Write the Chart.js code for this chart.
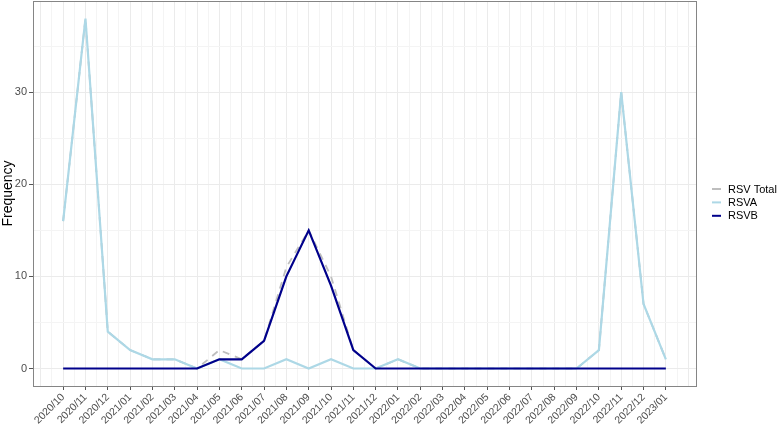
<!DOCTYPE html>
<html>
<head>
<meta charset="utf-8">
<script src="https://cdn.jsdelivr.net/npm/chart.js@4"></script>
<style>
  html, body { margin: 0; padding: 0; background: #fff; }
</style>
</head>
<body>
<canvas id="rsvChart" width="777" height="427"></canvas>
<script>
// months on the x axis
const months = ['2020/10','2020/11','2020/12','2021/01','2021/02','2021/03','2021/04','2021/05',
  '2021/06','2021/07','2021/08','2021/09','2021/10','2021/11','2021/12','2022/01','2022/02',
  '2022/03','2022/04','2022/05','2022/06','2022/07','2022/08','2022/09','2022/10','2022/11',
  '2022/12','2023/01'];

// monthly counts
const rsvA = [16, 38, 4, 2, 1, 1, 0, 1, 0, 0, 1, 0, 1, 0, 0, 1, 0, 0, 0, 0, 0, 0, 0, 0, 2, 30, 7, 1];
const rsvB = [0, 0, 0, 0, 0, 0, 0, 1, 1, 3, 10, 15, 9, 2, 0, 0, 0, 0, 0, 0, 0, 0, 0, 0, 0, 0, 0, 0];
const rsvTotal = [16, 38, 4, 2, 1, 1, 0, 2, 1, 3, 11, 15, 10, 2, 0, 1, 0, 0, 0, 0, 0, 0, 0, 0, 2, 30, 7, 1];

const yTicks = [0, 10, 20, 30];

const toPts = arr => arr.map((v, i) => ({ x: i, y: v }));
const font = '"Liberation Sans", Arial, sans-serif';

// frame round the panel, like ggplot's theme_bw
const panelBorder = {
  id: 'panelBorder',
  afterDraw(chart) {
    const { ctx, chartArea: a } = chart;
    ctx.save();
    ctx.strokeStyle = '#858585';
    ctx.lineWidth = 1;
    ctx.strokeRect(Math.round(a.left) + 0.5, Math.round(a.top) + 0.5,
      Math.round(a.right - a.left), Math.round(a.bottom - a.top));
    ctx.restore();
  }
};

// legend drawn to the right of the panel
const sideLegend = {
  id: 'sideLegend',
  afterDraw(chart) {
    const { ctx } = chart;
    const order = [2, 1, 0];
    ctx.save();
    ctx.font = '11px ' + font;
    ctx.textBaseline = 'middle';
    order.forEach((di, k) => {
      const ds = chart.data.datasets[di];
      const y = 189 + k * 13.4;
      ctx.strokeStyle = ds.borderColor;
      ctx.lineWidth = 2;
      ctx.beginPath();
      ctx.moveTo(712, y);
      ctx.lineTo(721, y);
      ctx.stroke();
      ctx.fillStyle = '#000';
      ctx.fillText(ds.label, 728, y + 0.5);
    });
    ctx.restore();
  }
};

new Chart(document.getElementById('rsvChart'), {
  type: 'line',
  data: {
    datasets: [
      { label: 'RSVB', data: toPts(rsvB), borderColor: '#00008B', borderWidth: 2.2, order: 1 },
      { label: 'RSVA', data: toPts(rsvA), borderColor: '#ADD8E6', borderWidth: 2.2, order: 2 },
      { label: 'RSV Total', data: toPts(rsvTotal), borderColor: '#BEBEBE', borderWidth: 1.8,
        borderDash: [7, 6], order: 3 }
    ]
  },
  options: {
    responsive: false,
    animation: false,
    layout: { padding: { left: 0, right: 81, top: 1, bottom: 0 } },
    elements: { point: { radius: 0, hoverRadius: 0 }, line: { tension: 0 } },
    plugins: { legend: { display: false }, tooltip: { enabled: false } },
    scales: {
      x: {
        type: 'linear',
        min: -1.35,
        max: 28.35,
        afterBuildTicks(axis) {
          const t = [];
          for (let v = -1; v <= 28; v += 0.5) t.push({ value: v });
          axis.ticks = t;
        },
        afterFit(axis) {
          axis.height = 41;
          axis.paddingLeft = 0;
          axis.paddingRight = 0;
        },
        border: { display: false },
        grid: {
          color: c => Number.isInteger(c.tick.value) ? '#ebebeb' : '#f4f4f4',
          tickColor: c => (Number.isInteger(c.tick.value) && c.tick.value >= 0 && c.tick.value < months.length) ? '#555' : 'rgba(0,0,0,0)',
          tickLength: 4
        },
        ticks: {
          autoSkip: false,
          minRotation: 45,
          maxRotation: 45,
          padding: 1,
          color: '#4d4d4d',
          font: { family: font, size: 10.5 },
          callback: v => (Number.isInteger(v) && v >= 0 && v < months.length) ? months[v] : ''
        }
      },
      y: {
        min: -1.9,
        max: 39.9,
        afterBuildTicks(axis) {
          axis.ticks = [0, 5, 10, 15, 20, 25, 30, 35].map(v => ({ value: v }));
        },
        afterFit(axis) {
          axis.width = 33;
          axis.paddingTop = 0;
          axis.paddingBottom = 0;
        },
        border: { display: false },
        grid: {
          color: c => yTicks.includes(c.tick.value) ? '#ebebeb' : '#f4f4f4',
          tickColor: c => yTicks.includes(c.tick.value) ? '#555' : 'rgba(0,0,0,0)',
          tickLength: 4
        },
        ticks: {
          padding: 2,
          color: '#4d4d4d',
          font: { family: font, size: 11 },
          callback: v => yTicks.includes(v) ? String(v) : ''
        },
        title: {
          display: true,
          text: 'Frequency',
          color: '#000',
          font: { family: font, size: 14 },
          padding: { top: 0, bottom: 0 }
        }
      }
    }
  },
  plugins: [panelBorder, sideLegend]
});
</script>
</body>
</html>
